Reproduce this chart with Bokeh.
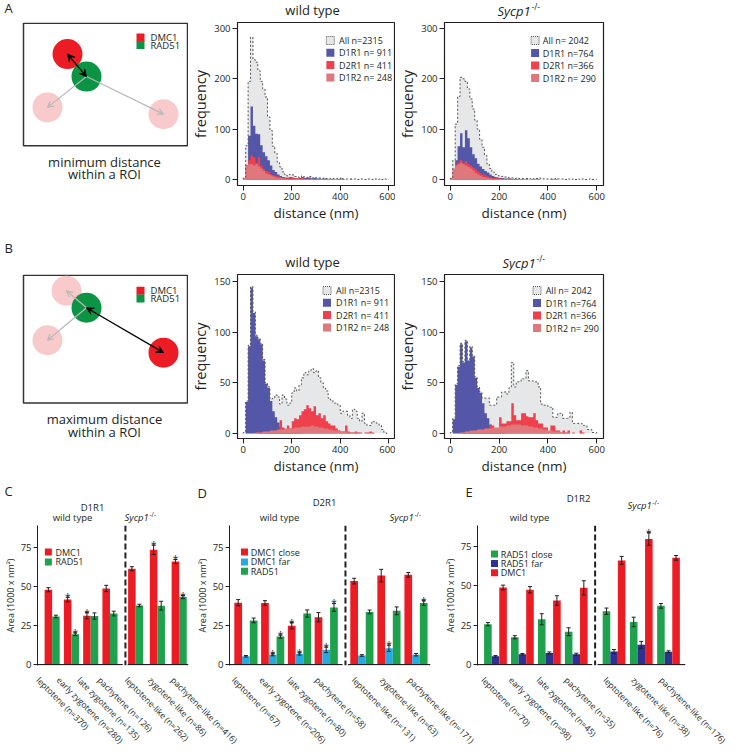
import math
from bokeh.plotting import figure
from bokeh.layouts import column, row
from bokeh.models import Range1d, FixedTicker, Span, Arrow, VeeHead, OpenHead
from bokeh.embed import file_html
from bokeh.resources import INLINE
from bokeh.core.properties import value

FONT = "Open Sans"
INK = "#231f20"

# ---------------- histogram data: counts per 10 nm bin (0-600 nm) ----------------
bin_edges = list(range(0, 610, 10))
dist_ticks = [0, 200, 400, 600]
freq_ticks_min = [0, 100, 200, 300]
freq_ticks_max = [0, 50, 100, 150]

wt_legend = ["All n=2315", "D1R1 n= 911", "D2R1 n= 411", "D1R2 n= 248"]
ko_legend = ["All n= 2042", "D1R1 n=764", "D2R1 n=366", "D1R2 n= 290"]

# minimum distance, wild type
wt_min_all = [3, 67, 195, 283, 238, 233, 216, 195, 180, 164, 124, 97, 66, 52, 34, 25, 15, 10, 7, 10,
              9, 6, 5, 4, 7, 5, 4, 6, 3, 4, 3, 3, 2, 3, 2, 2, 1, 2, 2, 1,
              3, 1, 1, 1, 1, 1, 1, 0, 1, 1, 0, 1, 1, 0, 1, 0, 1, 0, 1, 0]
wt_min_d1r1 = [0, 28, 87, 145, 107, 91, 90, 68, 54, 46, 38, 28, 19, 15, 10, 7, 5, 4, 3, 5,
               4, 3, 2, 3, 5, 3, 3, 4, 2, 3, 2, 2, 1, 2, 1, 1, 1, 1, 1, 1,
               2, 1, 0, 0, 1, 0, 0, 0, 0, 0, 0, 0, 0, 0, 0, 0, 0, 0, 0, 0]
wt_min_d2r1 = [1, 28, 38, 47, 44, 33, 44, 28, 21, 17, 15, 11, 8, 7, 6, 5, 4, 3, 4, 2,
               3, 3, 2, 2, 3, 2, 1, 2, 1, 1, 1, 1, 1, 1, 1, 0, 1, 0, 0, 1,
               0, 0, 0, 0, 0, 0, 0, 0, 0, 0, 0, 0, 0, 0, 0, 0, 0, 0, 0, 0]
wt_min_d1r2 = [3, 27, 30, 30, 28, 30, 26, 22, 17, 12, 10, 8, 6, 4, 3, 3, 2, 2, 1, 1,
               1, 1, 1, 0, 1, 0, 0, 0, 0, 0, 0, 0, 0, 0, 0, 0, 0, 0, 0, 0,
               0, 0, 0, 0, 0, 0, 0, 0, 0, 0, 0, 0, 0, 0, 0, 0, 0, 0, 0, 0]
# minimum distance, Sycp1-/-
ko_min_all = [2, 38, 110, 165, 203, 200, 195, 180, 160, 140, 118, 100, 80, 64, 48, 31, 22, 15, 10, 8,
              6, 6, 5, 4, 3, 3, 2, 3, 2, 2, 2, 2, 1, 2, 1, 2, 3, 2, 1, 1,
              1, 1, 1, 2, 1, 1, 1, 0, 1, 0, 1, 0, 1, 0, 1, 0, 0, 1, 0, 0]
ko_min_d1r1 = [0, 14, 38, 66, 92, 64, 98, 82, 64, 50, 42, 31, 26, 21, 17, 14, 10, 7, 5, 4,
               3, 3, 2, 2, 2, 1, 1, 1, 1, 1, 1, 1, 0, 1, 1, 2, 1, 0, 0, 0,
               0, 1, 1, 1, 0, 0, 0, 0, 0, 0, 0, 0, 0, 0, 0, 0, 0, 0, 0, 0]
ko_min_d2r1 = [2, 20, 30, 34, 38, 32, 36, 30, 28, 24, 20, 16, 12, 10, 8, 6, 4, 3, 3, 2,
               2, 2, 1, 1, 2, 1, 1, 1, 0, 1, 0, 1, 0, 0, 0, 0, 0, 0, 0, 0,
               0, 0, 0, 0, 0, 0, 0, 0, 0, 0, 0, 0, 0, 0, 0, 0, 0, 0, 0, 0]
ko_min_d1r2 = [3, 22, 28, 30, 33, 30, 28, 25, 22, 18, 13, 10, 7, 5, 4, 3, 2, 1, 1, 1,
               1, 0, 0, 0, 0, 0, 0, 0, 0, 0, 0, 0, 0, 0, 0, 0, 0, 0, 0, 0,
               0, 0, 0, 0, 0, 0, 0, 0, 0, 0, 0, 0, 0, 0, 0, 0, 0, 0, 0, 0]
# maximum distance, wild type
wt_max_all = [1, 32, 87, 145, 120, 97, 94, 89, 73, 50, 46, 34, 35, 38, 36, 29, 38, 34, 28, 30,
              40, 45, 42, 48, 55, 60, 58, 62, 64, 60, 62, 55, 50, 45, 42, 35, 33, 30, 30, 28,
              20, 22, 22, 18, 15, 24, 22, 15, 12, 20, 10, 8, 8, 12, 11, 10, 8, 4, 1, 0]
wt_max_d1r1 = [0, 31, 86, 144, 119, 96, 93, 88, 72, 49, 45, 32, 22, 16, 11, 7, 5, 3, 2, 2,
               1, 1, 1, 1, 0, 0, 0, 0, 0, 0, 0, 0, 0, 0, 0, 0, 0, 0, 0, 0,
               0, 0, 0, 0, 0, 0, 0, 0, 0, 0, 0, 0, 0, 0, 0, 0, 0, 0, 0, 0]
wt_max_d2r1 = [0, 0, 0, 0, 0, 0, 1, 1, 0, 1, 1, 2, 2, 3, 3, 13, 6, 4, 8, 5,
               12, 15, 14, 18, 22, 24, 28, 25, 22, 27, 18, 20, 15, 18, 12, 10, 8, 8, 5, 3,
               2, 2, 8, 2, 1, 1, 2, 1, 1, 0, 1, 1, 2, 1, 0, 0, 0, 0, 0, 0]
wt_max_d1r2 = [0, 0, 0, 0, 0, 1, 1, 1, 2, 2, 2, 3, 3, 3, 4, 4, 4, 5, 5, 5,
               5, 6, 6, 6, 7, 7, 7, 7, 8, 7, 7, 6, 6, 5, 5, 4, 4, 3, 3, 3,
               2, 2, 2, 1, 1, 1, 1, 1, 0, 0, 0, 0, 0, 0, 0, 0, 0, 0, 0, 0]
# maximum distance, Sycp1-/-
ko_max_all = [1, 15, 49, 67, 89, 71, 92, 73, 86, 77, 56, 46, 41, 35, 35, 35, 28, 28, 28, 36,
              36, 41, 41, 39, 45, 70, 46, 51, 51, 54, 54, 62, 52, 52, 51, 51, 46, 29, 28, 28,
              26, 26, 16, 16, 20, 20, 15, 15, 15, 21, 10, 10, 10, 10, 8, 8, 4, 4, 1, 1]
ko_max_d1r1 = [0, 14, 48, 66, 88, 70, 91, 72, 85, 76, 55, 45, 40, 30, 20, 15, 9, 5, 3, 2,
               1, 1, 1, 0, 0, 0, 0, 0, 0, 0, 0, 0, 0, 0, 0, 0, 0, 0, 0, 0,
               0, 0, 0, 0, 0, 0, 0, 0, 0, 0, 0, 0, 0, 0, 0, 0, 0, 0, 0, 0]
ko_max_d2r1 = [0, 0, 0, 0, 0, 1, 1, 2, 1, 2, 3, 2, 4, 3, 5, 4, 8, 8, 5, 3,
               16, 10, 10, 12, 12, 30, 18, 13, 13, 20, 20, 17, 16, 16, 20, 13, 10, 10, 6, 6,
               2, 8, 8, 3, 3, 1, 3, 1, 3, 0, 1, 0, 0, 3, 1, 0, 0, 0, 0, 0]
ko_max_d1r2 = [0, 0, 0, 0, 1, 1, 2, 2, 3, 3, 3, 4, 4, 4, 5, 5, 5, 6, 6, 6,
               7, 7, 7, 8, 8, 9, 9, 9, 9, 8, 8, 8, 7, 7, 6, 6, 5, 5, 4, 4,
               3, 3, 2, 2, 2, 1, 1, 1, 1, 0, 0, 0, 0, 0, 0, 0, 0, 0, 0, 0]

# ---------------- bar data (Area, 1000 x nm^2) ----------------
area_ticks = [0, 25, 50, 75]

c_wt_cats = ["leptotene (n=370)", "early zygotene (n=280)", "late zygotene (n=135)", "pachytene (n=126)"]
c_ko_cats = ["leptotene-like (n=262)", "zygotene-like (n=86)", "pachytene-like (n=416)"]
c_names = ["DMC1", "RAD51"]
c_dmc1 = [47.8, 41.5, 31.2, 48.6, 61.2, 73.3, 65.8]
c_dmc1_err = [1.3, 1.5, 2.0, 2.0, 1.3, 3.0, 1.3]
c_dmc1_star = [0, 1, 1, 0, 0, 1, 1]
c_rad51 = [30.7, 19.4, 31.0, 32.6, 37.7, 37.6, 43.1]
c_rad51_err = [0.8, 0.9, 2.0, 1.5, 0.8, 2.8, 1.0]
c_rad51_star = [0, 1, 0, 0, 0, 0, 1]

d_wt_cats = ["leptotene (n=67)", "early zygotene (n=206)", "late zygotene (n=80)", "pachytene (n=58)"]
d_ko_cats = ["leptotene-like (n=131)", "zygotene-like (n=63)", "pachytene-like (n=171)"]
d_names = ["DMC1 close", "DMC1 far", "RAD51"]
d_close = [39.5, 39.3, 24.8, 30.2, 53.3, 56.8, 57.3]
d_close_err = [2.0, 1.5, 2.0, 3.0, 1.8, 4.0, 1.5]
d_close_star = [0, 0, 1, 0, 0, 0, 0]
d_far = [5.3, 6.3, 6.8, 9.4, 5.8, 10.4, 6.3]
d_far_err = [0.5, 0.7, 0.8, 1.8, 0.5, 2.0, 0.8]
d_far_star = [0, 1, 1, 1, 0, 1, 0]
d_rad51 = [28.2, 17.9, 32.6, 36.5, 33.6, 34.3, 39.3]
d_rad51_err = [1.5, 1.0, 2.3, 2.5, 1.2, 2.5, 1.5]
d_rad51_star = [0, 1, 0, 1, 0, 0, 1]

e_wt_cats = ["leptotene (n=70)", "early zygotene (n=98)", "late zygotene (n=45)", "pachytene (n=35)"]
e_ko_cats = ["leptotene-like (n=76)", "zygotene-like (n=38)", "pachytene-like (n=176)"]
e_names = ["RAD51 close", "RAD51 far", "DMC1"]
e_close = [25.6, 17.3, 28.7, 20.8, 33.8, 27.0, 37.2]
e_close_err = [1.0, 1.0, 3.5, 2.5, 2.0, 3.0, 1.5]
e_close_star = [0, 0, 0, 0, 0, 0, 0]
e_far = [5.2, 6.5, 7.3, 6.5, 8.3, 12.5, 8.1]
e_far_err = [0.5, 0.5, 0.7, 0.7, 1.2, 2.2, 0.6]
e_far_star = [0, 0, 0, 0, 0, 0, 0]
e_dmc1 = [48.8, 47.4, 40.6, 48.6, 66.0, 79.6, 67.6]
e_dmc1_err = [1.5, 2.0, 3.0, 4.5, 2.5, 4.0, 1.5]
e_dmc1_star = [0, 0, 0, 0, 0, 1, 0]

# ---------------- colours ----------------
GRAY_FILL = "#e6e7e8"
OUTLINE = "#555555"
BLUE = "#5457a8"
RED_H = "#ee404d"
SALMON = "#de787c"
DMC1_RED = "#ec1c24"
RAD51_GREEN = "#1fa24e"
CYAN = "#27aae1"
NAVY = "#2e3192"
PINK = "#f8cacc"
SCH_GREEN = "#0b9444"

W = 730


class Frame:
    """screen-pixel frame of a figure, used to place legend entries"""
    def __init__(self, fx, fy, fw, fh, xr, yr):
        self.fx, self.fy, self.fw, self.fh, self.xr, self.yr = fx, fy, fw, fh, xr, yr

    def x(self, sx):
        return self.xr[0] + (sx - self.fx) / self.fw * (self.xr[1] - self.xr[0])

    def y(self, sy):
        return self.yr[1] - (sy - self.fy) / self.fh * (self.yr[1] - self.yr[0])


def txt(p, x, y, text, size, align="center", style="normal"):
    p.text(x=[x], y=[y], text=[text], text_font=value(FONT), text_font_size=size,
           text_align=align, text_baseline="middle", text_font_style=style, text_color=INK)


def sycp1(p, x, y, size, sup_size, sup_dx, sup_dy):
    txt(p, x, y, "Sycp1", size, align="left", style="italic")
    txt(p, x + sup_dx, y - sup_dy, "-/-", sup_size, align="left")


def strip(height):
    p = figure(width=W, height=height, x_range=Range1d(0, W), y_range=Range1d(height, 0),
               x_axis_location=None, y_axis_location=None, min_border=0,
               toolbar_location=None, output_backend="svg")
    p.outline_line_color = None
    p.grid.visible = False
    return p


def step_area(vals):
    xs, ys = [], []
    for i, v in enumerate(vals):
        xs += [bin_edges[i], bin_edges[i + 1]]
        ys += [v, v]
    return xs, ys


def step_outline(vals):
    xs, ys = [bin_edges[0]], [0]
    for i, v in enumerate(vals):
        xs += [bin_edges[i], bin_edges[i + 1]]
        ys += [v, v]
    xs.append(bin_edges[-1])
    ys.append(0)
    return xs, ys


def style_axis(ax, tick_size, label_size, tick_out):
    ax.axis_line_color = INK
    ax.axis_line_width = 1
    ax.major_tick_line_color = INK
    ax.major_tick_out = tick_out
    ax.major_tick_in = 0
    ax.minor_tick_line_color = None
    ax.major_label_text_font = FONT
    ax.major_label_text_font_size = tick_size
    ax.major_label_text_color = INK
    ax.axis_label_text_font = FONT
    ax.axis_label_text_font_size = label_size
    ax.axis_label_text_font_style = "normal"
    ax.axis_label_text_color = INK
    ax.major_label_standoff = 2
    ax.axis_label_standoff = 1


def hist_panel(width, height, bl, bt, br, bb, xr, yr, yticks, s_all, s_b, s_r, s_s, names,
               fr, sq_x, tx_x, rows_y):
    p = figure(width=width, height=height, x_range=Range1d(*xr), y_range=Range1d(*yr),
               min_border_left=bl, min_border_top=bt, min_border_right=br, min_border_bottom=bb,
               toolbar_location=None, output_backend="svg")
    p.xgrid.visible = False
    p.ygrid.visible = False
    p.outline_line_color = INK
    p.outline_line_width = 1.2
    xa, ya = step_area(s_all)
    p.varea(x=xa, y1=[0] * len(xa), y2=ya, fill_color=GRAY_FILL)
    for s, c in ((s_b, BLUE), (s_r, RED_H), (s_s, SALMON)):
        xs, ys = step_area(s)
        p.varea(x=xs, y1=[0] * len(xs), y2=ys, fill_color=c)
    xo, yo = step_outline(s_all)
    p.line(x=xo, y=yo, line_color=OUTLINE, line_dash="2 2", line_width=1)
    # legend (swatches + labels)
    lx = fr.x(sq_x)
    ly = [fr.y(r) for r in rows_y]
    p.scatter(x=[lx], y=[ly[0]], marker="square", size=8, fill_color=GRAY_FILL,
              line_color=OUTLINE, line_dash="1 1", line_width=1)
    p.scatter(x=[lx] * 3, y=ly[1:], marker="square", size=8,
              fill_color=[BLUE, RED_H, SALMON], line_color=None)
    p.text(x=[fr.x(tx_x)] * 4, y=ly, text=names, text_font=value(FONT), text_font_size="9px",
           text_align="left", text_baseline="middle", text_color=INK)
    p.xaxis.ticker = FixedTicker(ticks=dist_ticks)
    p.yaxis.ticker = FixedTicker(ticks=yticks)
    p.xaxis.axis_label = "distance (nm)"
    p.yaxis.axis_label = "frequency"
    style_axis(p.xaxis[0], "9.5px", "13.5px", 5)
    style_axis(p.yaxis[0], "9.5px", "14.5px", 5)
    return p


def bar_panel(width, height, bl, bt, br, bb, x_end, y_end, centers, series, colors, errs, stars,
              names, bar_w, sep_x, fr, sq_x, tx_x, rows_y):
    p = figure(width=width, height=height, x_range=Range1d(0, x_end), y_range=Range1d(-0.6, y_end),
               x_axis_location=None, min_border_left=bl, min_border_top=bt, min_border_right=br,
               min_border_bottom=bb, toolbar_location=None, output_backend="svg")
    p.xgrid.visible = False
    p.ygrid.visible = False
    p.outline_line_color = None
    n = len(series)
    sx, sy = [], []
    for k, (vals, col, err, st) in enumerate(zip(series, colors, errs, stars)):
        off = (k - (n - 1) / 2) * bar_w
        xs = [c + off for c in centers]
        p.vbar(x=xs, top=vals, width=bar_w, fill_color=col, line_color=None)
        lo = [v - e for v, e in zip(vals, err)]
        hi = [v + e for v, e in zip(vals, err)]
        p.segment(x0=xs, y0=lo, x1=xs, y1=hi, line_color=INK, line_width=1)
        p.scatter(x=xs + xs, y=lo + hi, marker="dash", size=4, line_color=INK, line_width=1)
        for x, h, s in zip(xs, hi, st):
            if s:
                sx.append(x)
                sy.append(h)
    if sx:
        p.text(x=sx, y=sy, text=["*"] * len(sx), text_font=value(FONT), text_font_size="10px",
               text_align="center", text_baseline="alphabetic", text_color=INK)
    p.segment(x0=[0, sep_x + 2.5], x1=[sep_x - 3, x_end], y0=[0, 0], y1=[0, 0],
              line_color=INK, line_width=1.2)
    p.add_layout(Span(location=sep_x, dimension="height", line_color=INK,
                      line_dash="6 3", line_width=2))
    # legend (swatches + labels)
    ly = [fr.y(r) for r in rows_y]
    p.scatter(x=[fr.x(sq_x)] * n, y=ly, marker="square", size=7, fill_color=colors, line_color=None)
    p.text(x=[fr.x(tx_x)] * n, y=ly, text=names, text_font=value(FONT), text_font_size="9px",
           text_align="left", text_baseline="middle", text_color=INK)
    p.yaxis.ticker = FixedTicker(ticks=area_ticks)
    p.yaxis.axis_label = "Area (1000 x nm\u00b2)"
    style_axis(p.yaxis[0], "9.5px", "9px", 4)
    return p


# ---------------- schematic illustration coordinates (screen pixels) ----------------
schem_a = dict(y0=21, h=217, box=(23, 22, 187, 185), pink=[(47, 134), (163, 143)], red=(67, 63),
               green=(86, 93), leg_y=(41, 51), cap_y=(207, 223),
               caption=("minimum distance", "within a ROI"))
schem_b = dict(y0=270, h=212, box=(23, 271, 187, 436), pink=[(66, 291), (47, 355)], red=(163, 371),
               green=(86, 313), leg_y=(291, 301), cap_y=(457, 473),
               caption=("maximum distance", "within a ROI"))


def schematic(d):
    h, y0 = d["h"], d["y0"]
    p = figure(width=188, height=h, x_range=Range1d(0, 188), y_range=Range1d(y0 + h, y0),
               x_axis_location=None, y_axis_location=None, min_border=0,
               toolbar_location=None, output_backend="svg")
    p.outline_line_color = None
    p.grid.visible = False
    l, t, r, b = d["box"]
    p.quad(left=[l], right=[r], top=[t], bottom=[b], fill_color=None,
           line_color="#333333", line_width=1.5)
    cx = [c[0] for c in d["pink"]] + [d["red"][0], d["green"][0]]
    cy = [c[1] for c in d["pink"]] + [d["red"][1], d["green"][1]]
    p.circle(x=cx, y=cy, radius=15, fill_color=[PINK, PINK, DMC1_RED, SCH_GREEN], line_color=None)
    gx, gy = d["green"]
    for (px, py) in d["pink"]:
        p.add_layout(Arrow(x_start=gx, y_start=gy, x_end=px, y_end=py, line_color="#b8b8b8",
                           line_width=1.2, end=OpenHead(size=6, line_color="#b8b8b8", line_width=1.2)))
    rx, ry = d["red"]
    p.add_layout(Arrow(x_start=gx, y_start=gy, x_end=rx, y_end=ry, line_color="black",
                       line_width=1.3,
                       start=VeeHead(size=7, fill_color="black", line_color="black"),
                       end=VeeHead(size=7, fill_color="black", line_color="black")))
    ly = d["leg_y"]
    p.scatter(x=[140, 140], y=list(ly), marker="square", size=8,
              fill_color=[DMC1_RED, SCH_GREEN], line_color=None)
    p.text(x=[150, 150], y=list(ly), text=["DMC1", "RAD51"], text_font=value(FONT),
           text_font_size="9.5px", text_align="left", text_baseline="middle", text_color=INK)
    p.text(x=[104, 104], y=list(d["cap_y"]), text=list(d["caption"]), text_font=value(FONT),
           text_font_size="13px", text_align="center", text_baseline="middle", text_color=INK)
    return p


# ---------------- rows 1 & 2: schematics + histograms ----------------
XR_WT = (-23.7, 623.7)
XR_KO = (-23.7, 627.6)
YR_MIN = (-12, 312)
YR_MAX = (-4.9, 156.9)

t1 = strip(21)
txt(t1, 4, 7, "A", "13px", align="left")
txt(t1, 312, 9, "wild type", "13px")
sycp1(t1, 497, 10, "13px", "8.5px", 34, 4)

sA = schematic(schem_a)
fA_wt = Frame(238, 22, 164, 163, XR_WT, YR_MIN)
fA_ko = Frame(446, 22, 165, 163, XR_KO, YR_MIN)
hA_wt = hist_panel(207, 217, 42, 1, 1, 53, XR_WT, YR_MIN, freq_ticks_min,
                   wt_min_all, wt_min_d1r1, wt_min_d2r1, wt_min_d1r2, wt_legend,
                   fA_wt, 335, 344, [40, 52.3, 64.6, 77])
hA_ko = hist_panel(335, 217, 43, 1, 127, 53, XR_KO, YR_MIN, freq_ticks_min,
                   ko_min_all, ko_min_d1r1, ko_min_d2r1, ko_min_d1r2, ko_legend,
                   fA_ko, 540, 548, [40, 52.5, 65, 77.5])

t2 = strip(32)
txt(t2, 4, 9, "B", "13px", align="left")
txt(t2, 312, 23, "wild type", "13px")
sycp1(t2, 502, 24, "13px", "8.5px", 34, 4)

sB = schematic(schem_b)
fB_wt = Frame(238, 274, 164, 164, XR_WT, YR_MAX)
fB_ko = Frame(446, 274, 165, 164, XR_KO, YR_MAX)
hB_wt = hist_panel(207, 212, 42, 4, 1, 44, XR_WT, YR_MAX, freq_ticks_max,
                   wt_max_all, wt_max_d1r1, wt_max_d2r1, wt_max_d1r2, wt_legend,
                   fB_wt, 331.5, 341, [290, 302.3, 314.6, 327])
hB_ko = hist_panel(335, 212, 43, 4, 127, 44, XR_KO, YR_MAX, freq_ticks_max,
                   ko_max_all, ko_max_d1r1, ko_max_d2r1, ko_max_d1r2, ko_legend,
                   fB_ko, 542, 551, [290, 302.5, 315, 327.5])

# ---------------- row 3: bar panels ----------------
def centers(first_wt, stride_wt, first_ko, stride_ko, n_wt, n_ko):
    return [first_wt + i * stride_wt for i in range(n_wt)] + [first_ko + i * stride_ko for i in range(n_ko)]

c_cent = centers(16.5, 21.7, 110.5, 24.5, len(c_wt_cats), len(c_ko_cats))
d_cent = centers(17.0, 27.7, 137.0, 28.0, len(d_wt_cats), len(d_ko_cats))
e_cent = centers(18.5, 27.7, 140.5, 28.0, len(e_wt_cats), len(e_ko_cats))

t3 = strip(41)
txt(t3, 4, 8, "C", "13px", align="left")
txt(t3, 92, 25, "D1R1", "9.5px")
txt(t3, 72, 34.5, "wild type", "9.5px")
sycp1(t3, 124, 34.5, "9.5px", "6.5px", 25, 3)
txt(t3, 197, 10, "D", "13px", align="left")
txt(t3, 324, 20, "D2R1", "9.5px")
txt(t3, 279, 34.5, "wild type", "9.5px")
sycp1(t3, 389, 34.5, "9.5px", "6.5px", 25, 3)
txt(t3, 465, 9, "E", "13px", align="left")
txt(t3, 578, 16, "D1R2", "9.5px")
txt(t3, 529, 34.5, "wild type", "9.5px")
sycp1(t3, 627, 23, "9.5px", "6.5px", 25, 3)

YC = 88.8
YE = 88.1
fC = Frame(36, 525, 160, 142, (0, 170), (-0.6, YC))
fD = Frame(230, 525, 208, 142, (0, 208), (-0.6, YC))
fE = Frame(479, 523, 214, 142, (0, 214), (-0.6, YE))
ROW3_H = 150
pC = bar_panel(192, ROW3_H, 28, 2, 4, 6, 170, YC, c_cent, [c_dmc1, c_rad51],
               [DMC1_RED, RAD51_GREEN], [c_dmc1_err, c_rad51_err], [c_dmc1_star, c_rad51_star],
               c_names, 8.5, 99, fC, 47.5, 55, [552, 562])
pD = bar_panel(248, ROW3_H, 30, 2, 10, 6, 208, YC, d_cent, [d_close, d_far, d_rad51],
               [DMC1_RED, CYAN, RAD51_GREEN], [d_close_err, d_far_err, d_rad51_err],
               [d_close_star, d_far_star, d_rad51_star], d_names, 8.0, 120,
               fD, 245.5, 252, [552, 562, 571.5])
pE = bar_panel(290, ROW3_H, 31, 0, 45, 8, 214, YE, e_cent, [e_close, e_far, e_dmc1],
               [RAD51_GREEN, NAVY, DMC1_RED], [e_close_err, e_far_err, e_dmc1_err],
               [e_close_star, e_far_star, e_dmc1_star], e_names, 7.8, 121,
               fE, 496.5, 503, [552, 561.5, 571])

# ---------------- rotated category labels (below the bar panels) ----------------
LAB_H = 74
lab = figure(width=W, height=LAB_H, x_range=Range1d(0, W), y_range=Range1d(0, LAB_H),
             x_axis_location=None, y_axis_location=None, min_border=0,
             toolbar_location=None, output_backend="svg")
lab.outline_line_color = None
lab.grid.visible = False
lab_x, lab_t = [], []
for cents, cats, fr, shift in ((c_cent, c_wt_cats + c_ko_cats, fC, -2),
                               (d_cent, d_wt_cats + d_ko_cats, fD, -2),
                               (e_cent, e_wt_cats + e_ko_cats, fE, -3)):
    for c, t in zip(cents, cats):
        lab_x.append(fr.fx + (c - fr.xr[0]) / (fr.xr[1] - fr.xr[0]) * fr.fw - 8 + shift)
        lab_t.append(t)
lab.text(x=lab_x, y=[LAB_H - 1] * len(lab_x), text=lab_t, angle=-math.pi / 4, text_align="left",
         text_baseline="top", text_font=value(FONT), text_font_size="8.5px", text_color=INK)

layout = column(t1, row(sA, hA_wt, hA_ko), t2, row(sB, hB_wt, hB_ko), t3, row(pC, pD, pE), lab)

open("out.html", "w").write(file_html(layout, INLINE))
